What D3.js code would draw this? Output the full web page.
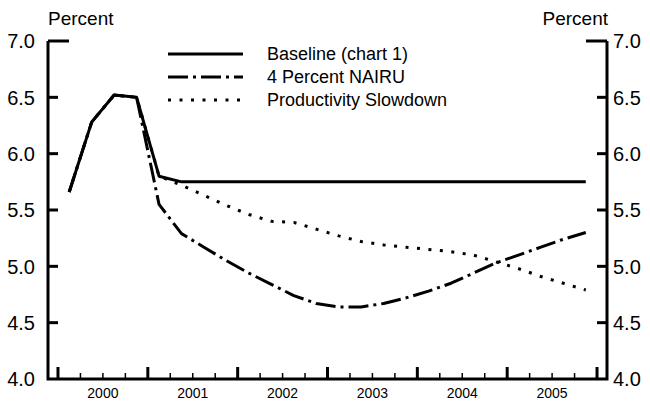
<!DOCTYPE html>
<html>
<head>
<meta charset="utf-8">
<script src="https://cdn.jsdelivr.net/npm/d3@7"></script>
<style>
  body { margin: 0; background: #fff; }
  text { font-family: "Liberation Sans", Arial, sans-serif; fill: #000; }
</style>
</head>
<body>
<div id="chart"></div>
<script>
// quarterly data, 2000Q1 .. 2005Q4
const years = [2000, 2001, 2002, 2003, 2004, 2005];
const yTicks = [4.0, 4.5, 5.0, 5.5, 6.0, 6.5, 7.0];

const baseline = [5.66, 6.28, 6.52, 6.50,
                  5.80, 5.75, 5.75, 5.75,
                  5.75, 5.75, 5.75, 5.75,
                  5.75, 5.75, 5.75, 5.75,
                  5.75, 5.75, 5.75, 5.75,
                  5.75, 5.75, 5.75, 5.75];
const nairu = [5.66, 6.28, 6.52, 6.50,
               5.55, 5.29, 5.17, 5.05,
               4.94, 4.84, 4.74, 4.67,
               4.64, 4.64, 4.67, 4.72,
               4.78, 4.85, 4.94, 5.03,
               5.10, 5.17, 5.24, 5.30];
const productivity = [5.66, 6.28, 6.52, 6.50,
                      5.80, 5.72, 5.63, 5.54,
                      5.46, 5.40, 5.39, 5.33,
                      5.27, 5.22, 5.19, 5.17,
                      5.15, 5.13, 5.10, 5.04,
                      4.98, 4.91, 4.85, 4.79];

const seriesNames = ["Baseline (chart 1)", "4 Percent NAIRU", "Productivity Slowdown"];
const dashes = [null, "20 5 3 5", "3 8.5"];

const width = 650, height = 407;
const margin = { top: 41, right: 43, bottom: 28, left: 48 };

const svg = d3.select("#chart").append("svg")
    .attr("width", width)
    .attr("height", height);

const x = d3.scaleLinear()
    .domain([2000 - 10 / 90, 2006 + 10 / 90])
    .range([margin.left, width - margin.right]);

const y = d3.scaleLinear()
    .domain([4, 7])
    .range([height - margin.bottom, margin.top]);

const qTime = i => 2000 + Math.floor(i / 4) + ((i % 4) + 0.5) / 4;

// frame: left, bottom, right (no top)
const x0 = x.range()[0], x1 = x.range()[1];
svg.append("path")
    .attr("d", `M${x0},${y(7)}V${y(4)}H${x1}V${y(7)}`)
    .attr("fill", "none")
    .attr("stroke", "#000")
    .attr("stroke-width", 3);

// y ticks, both sides
yTicks.filter(d => d > 4).forEach(d => {
    const len = d === 7 ? 21 : 10;
    svg.append("line")
        .attr("x1", x0).attr("x2", x0 + len)
        .attr("y1", y(d)).attr("y2", y(d))
        .attr("stroke", "#000").attr("stroke-width", 3);
    svg.append("line")
        .attr("x1", x1).attr("x2", x1 - len)
        .attr("y1", y(d)).attr("y2", y(d))
        .attr("stroke", "#000").attr("stroke-width", 3);
});

yTicks.forEach(d => {
    svg.append("text")
        .attr("x", x0 - 13).attr("y", y(d))
        .attr("dy", "0.36em")
        .attr("text-anchor", "end")
        .attr("font-size", 20)
        .text(d.toFixed(1));
    svg.append("text")
        .attr("x", x1 + 6).attr("y", y(d))
        .attr("dy", "0.36em")
        .attr("text-anchor", "start")
        .attr("font-size", 20)
        .text(d.toFixed(1));
});

svg.append("text")
    .attr("x", x0).attr("y", 25)
    .attr("font-size", 19)
    .text("Percent");
svg.append("text")
    .attr("x", x1 + 1).attr("y", 25)
    .attr("text-anchor", "end")
    .attr("font-size", 19)
    .text("Percent");

// x ticks: years major, quarters minor
const quarterTicks = d3.range(0, 25).map(i => 2000 + i / 4);
svg.append("g")
    .selectAll("line")
    .data(quarterTicks)
    .enter().append("line")
    .attr("x1", d => x(d)).attr("x2", d => x(d))
    .attr("y1", y(4))
    .attr("y2", (d, i) => y(4) - (i % 4 === 0 ? 12 : 6))
    .attr("stroke", "#000")
    .attr("stroke-width", (d, i) => i % 4 === 0 ? 3 : 1.5);

svg.append("g")
    .selectAll("text")
    .data(years)
    .enter().append("text")
    .attr("x", d => x(d + 0.5))
    .attr("y", 398)
    .attr("text-anchor", "middle")
    .attr("font-size", 14)
    .text(d => d);

// series
const line = d3.line()
    .x((d, i) => x(qTime(i)))
    .y(d => y(d));

[baseline, nairu, productivity].forEach((s, k) => {
    svg.append("path")
        .datum(s)
        .attr("d", line)
        .attr("fill", "none")
        .attr("stroke", "#000")
        .attr("stroke-width", 3)
        .attr("stroke-linejoin", "round")
        .attr("stroke-dasharray", dashes[k]);
});

// legend
const legend = svg.append("g");
seriesNames.forEach((name, k) => {
    const ly = 54 + k * 23;
    legend.append("line")
        .attr("x1", 168).attr("x2", 243)
        .attr("y1", ly).attr("y2", ly)
        .attr("stroke", "#000")
        .attr("stroke-width", 3)
        .attr("stroke-dasharray", dashes[k]);
    legend.append("text")
        .attr("x", 267).attr("y", ly)
        .attr("dy", "0.36em")
        .attr("font-size", 18)
        .text(name);
});
</script>
</body>
</html>
